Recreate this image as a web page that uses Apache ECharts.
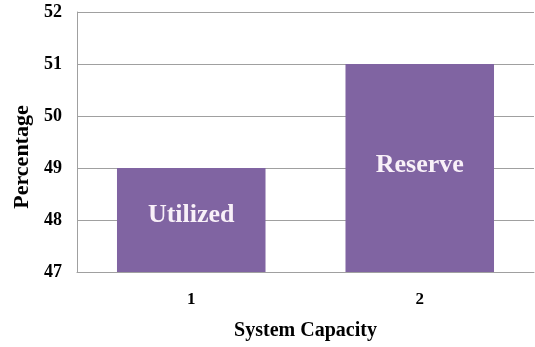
<!DOCTYPE html>
<html>
<head>
<meta charset="utf-8">
<script src="https://cdn.jsdelivr.net/npm/echarts@6/dist/echarts.min.js"></script>
<style>
html,body{margin:0;padding:0;background:#fff;}
#chart{width:535px;height:347px;}
</style>
</head>
<body>
<div id="chart"></div>
<script>
const categories = ['1', '2'];
const values = [49, 51];
const barLabels = ['Utilized', 'Reserve'];
const labelOffsets = [[0, -5], [0, -3]];

const FONT = 'Liberation Serif';
const chart = echarts.init(document.getElementById('chart'));
chart.setOption({
  animation: false,
  backgroundColor: '#ffffff',
  textStyle: { fontFamily: FONT },
  grid: { left: 77, right: 1, top: 12, bottom: 75, containLabel: false },
  xAxis: {
    type: 'category',
    data: categories,
    name: 'System Capacity',
    nameLocation: 'middle',
    nameGap: 49,
    nameTextStyle: { fontFamily: FONT, fontWeight: 'bold', fontSize: 20, color: '#000' },
    axisLine: { show: true, lineStyle: { color: '#a0a0a0', width: 1 } },
    axisTick: { show: false },
    axisLabel: { fontFamily: FONT, fontWeight: 'bold', fontSize: 17, color: '#000', margin: 19 }
  },
  yAxis: {
    type: 'value',
    min: 47, max: 52, interval: 1,
    name: 'Percentage',
    nameLocation: 'middle',
    nameGap: 44,
    nameTextStyle: { fontFamily: FONT, fontWeight: 'bold', fontSize: 22, color: '#000', padding: [0, 30, 0, 0] },
    axisLine: { show: true, lineStyle: { color: '#a0a0a0', width: 1 } },
    axisTick: { show: false },
    axisLabel: { fontFamily: FONT, fontWeight: 'bold', fontSize: 18, color: '#000', margin: 15 },
    splitLine: { show: true, lineStyle: { color: '#a0a0a0', width: 1 } }
  },
  series: [{
    type: 'bar',
    barCategoryGap: '35%',
    itemStyle: { color: '#8064A2' },
    data: values.map((v, i) => ({
      value: v,
      label: {
        show: true,
        position: 'inside',
        offset: labelOffsets[i],
        formatter: barLabels[i],
        fontFamily: FONT,
        fontWeight: 'bold',
        fontSize: 26,
        color: '#f8f0f8'
      }
    }))
  }]
});
</script>
</body>
</html>
